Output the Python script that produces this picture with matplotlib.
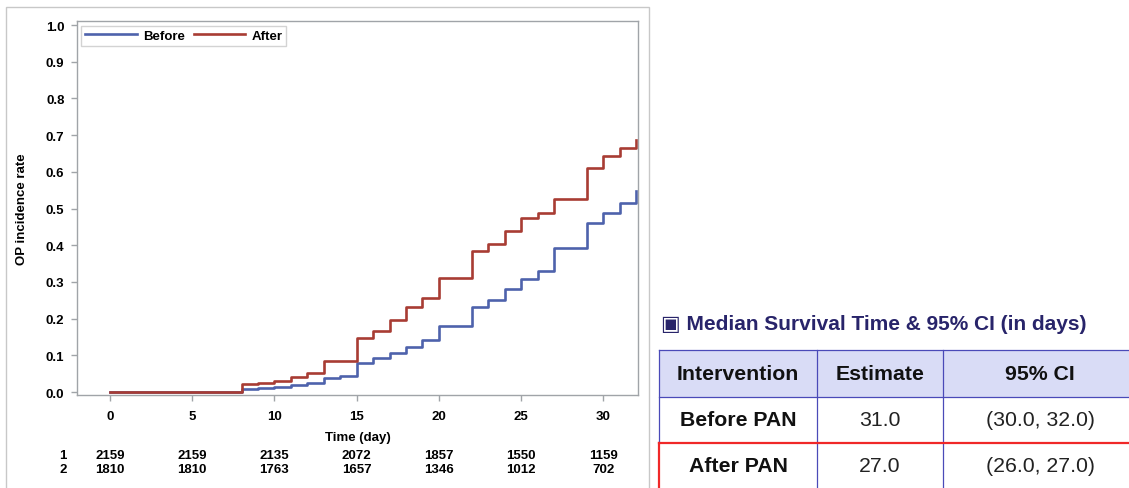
import matplotlib
matplotlib.use("Agg")
import matplotlib.pyplot as plt
from matplotlib import font_manager
from matplotlib.patches import Rectangle
from matplotlib.lines import Line2D
import matplotlib.transforms as mtransforms

# cumulative incidence
days_before = [0, 8, 9, 10, 11, 12, 13, 14, 15, 16, 17, 18, 19, 20,
               22, 23, 24, 25, 26, 27, 29, 30, 31, 32]
rate_before = [0.0, 0.009, 0.011, 0.014, 0.020, 0.025, 0.038, 0.043, 0.079,
               0.092, 0.107, 0.123, 0.141, 0.180, 0.233, 0.250, 0.280, 0.307,
               0.330, 0.393, 0.461, 0.488, 0.516, 0.549]
days_after = [0, 8, 9, 10, 11, 12, 13, 15, 16, 17, 18, 19, 20,
              22, 23, 24, 25, 26, 27, 29, 30, 31, 32]
rate_after = [0.0, 0.021, 0.025, 0.030, 0.042, 0.052, 0.085, 0.148, 0.166,
              0.195, 0.233, 0.255, 0.310, 0.384, 0.403, 0.439, 0.473, 0.489,
              0.525, 0.610, 0.643, 0.666, 0.686]

# numbers at risk
risk_days = [0, 5, 10, 15, 20, 25, 30]
risk_group1 = [2159, 2159, 2135, 2072, 1857, 1550, 1159]
risk_group2 = [1810, 1810, 1763, 1657, 1346, 1012, 702]

# median survival table
table_title = "\u25a3 Median Survival Time & 95% CI (in days)"
table_header = ["Intervention", "Estimate", "95% CI"]
table_groups = ["Before PAN", "After PAN"]
table_estimates = ["31.0", "27.0"]
table_ci = ["(30.0, 32.0)", "(26.0, 27.0)"]

W, H = 1129, 489


def pick_font(names):
    have = {f.name for f in font_manager.fontManager.ttflist}
    for n in names:
        if n in have:
            return n
    return "DejaVu Sans"


arial = pick_font(["Liberation Sans", "Arial", "DejaVu Sans"])
plt.rcParams["font.family"] = [arial, "DejaVu Sans"]


def fx(px):
    return px / W


def fy(py):
    return 1 - py / H


fig = plt.figure(figsize=(W / 100, H / 100), dpi=100)

# light outer frame round the graph
fig.add_artist(Rectangle((fx(5.5), fy(495)), fx(649) - fx(5.5), fy(8) - fy(495),
                         transform=fig.transFigure, fill=False,
                         edgecolor="#c8c8c8", lw=1))

ax = fig.add_axes([fx(77), fy(396), fx(638) - fx(77), fy(22) - fy(396)])
ax.step(days_before, rate_before, where="post", color="#4e62ac", lw=1.9, label="Before")
ax.step(days_after, rate_after, where="post", color="#a83c33", lw=1.9, label="After")

ax.set_xlim(-2.0, 32.1)
ax.set_ylim(-0.008, 1.011)
ax.set_xticks(risk_days)
ax.set_yticks([i / 10 for i in range(11)])
ax.set_yticklabels([f"{i / 10:.1f}" for i in range(11)])
for s in ax.spines.values():
    s.set_color("#a0a4a8")
    s.set_linewidth(1)
ax.tick_params(colors="#a0a4a8", labelcolor="black", length=4, width=1,
               labelsize=9.5)
for lab in ax.get_xticklabels() + ax.get_yticklabels():
    lab.set_fontweight("bold")
ax.tick_params(axis="x", pad=7)
ax.tick_params(axis="y", pad=5)

ax.set_ylabel("OP incidence rate", fontsize=9.5, fontweight="bold")
ax.yaxis.set_label_coords(-0.098, 0.5)
ax.yaxis.label.set_va("center")
ax.set_xlabel("Time (day)", fontsize=9.5, fontweight="bold")
ax.xaxis.set_label_coords(0.5, -0.112)
ax.xaxis.label.set_va("center")

leg = ax.legend(loc="upper left", ncol=2, fontsize=9.5, frameon=True, fancybox=False,
                borderpad=0.3, handlelength=3.9, columnspacing=0.7, handletextpad=0.45,
                bbox_to_anchor=(0.008, 0.987), borderaxespad=0)
leg.get_frame().set_edgecolor("#c8c8c8")
leg.get_frame().set_linewidth(1)
for t in leg.get_texts():
    t.set_fontweight("bold")

# at-risk rows under the axis
trans = mtransforms.blended_transform_factory(ax.transData, fig.transFigure)
for row_y, label, counts in [(456, "1", risk_group1), (470, "2", risk_group2)]:
    fig.text(fx(63), fy(row_y), label, ha="center", va="center", fontsize=9.5,
             fontweight="bold")
    for d, n in zip(risk_days, counts):
        ax.text(d, fy(row_y), str(n), transform=trans, ha="center", va="center",
                fontsize=9.5, fontweight="bold", clip_on=False)

# median survival table on the right
fig.text(fx(661), fy(325), table_title, ha="left", va="center", fontsize=15,
         fontweight="bold", color="#28246a", family=[arial, "DejaVu Sans"])

col_x = [659, 817, 943, 1140]
row_y = [351, 398, 444, 500]
border = "#4a4ab8"
fig.add_artist(Rectangle((fx(col_x[0]), fy(row_y[1])), fx(col_x[3]) - fx(col_x[0]),
                         fy(row_y[0]) - fy(row_y[1]), transform=fig.transFigure,
                         facecolor="#d9dcf6", edgecolor="none"))
for y in row_y[:2]:
    fig.add_artist(Line2D([fx(col_x[0]), fx(col_x[3])], [fy(y), fy(y)],
                          transform=fig.transFigure, color=border, lw=0.9))
for x in col_x[1:3]:
    fig.add_artist(Line2D([fx(x), fx(x)], [fy(row_y[0]), fy(row_y[3])],
                          transform=fig.transFigure, color=border, lw=0.9))
fig.add_artist(Line2D([fx(col_x[0]), fx(col_x[0])], [fy(row_y[0]), fy(row_y[2])],
                      transform=fig.transFigure, color=border, lw=0.9))
# red highlight round the "After" row
fig.add_artist(Line2D([fx(col_x[0]), fx(col_x[3])], [fy(row_y[2]), fy(row_y[2])],
                      transform=fig.transFigure, color="#f02828", lw=1.6))
fig.add_artist(Line2D([fx(col_x[0]), fx(col_x[0])], [fy(row_y[2]), fy(row_y[3])],
                      transform=fig.transFigure, color="#f02828", lw=1.6))

col_cx = [738, 880, 1040]
cell_cy = [421, 467]
for cx, txt in zip(col_cx, table_header):
    fig.text(fx(cx), fy(375), txt, ha="center", va="center", fontsize=15.3,
             fontweight="bold", color="#111111")
for cy, g, e, c in zip(cell_cy, table_groups, table_estimates, table_ci):
    fig.text(fx(col_cx[0]), fy(cy), g, ha="center", va="center", fontsize=15.3,
             fontweight="bold", color="#111111")
    fig.text(fx(col_cx[1]), fy(cy), e, ha="center", va="center", fontsize=15.3,
             color="#222222")
    fig.text(fx(col_cx[2]), fy(cy), c, ha="center", va="center", fontsize=15.3,
             color="#222222")

fig.savefig("out.png", dpi=100)
